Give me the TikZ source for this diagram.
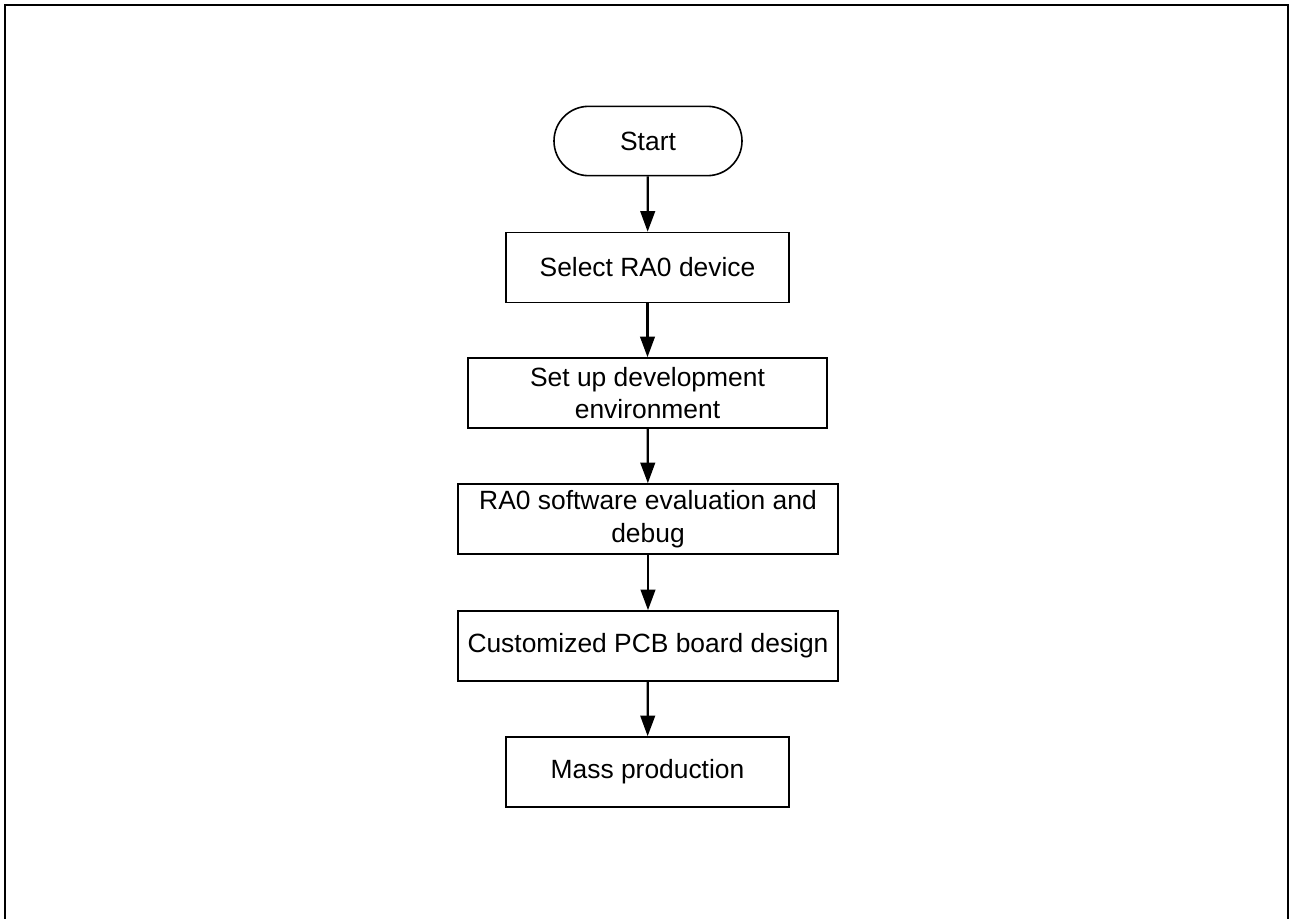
\documentclass[tikz,border=0pt]{standalone}
\usepackage{fontspec}
\setmainfont{Liberation Sans}
\usetikzlibrary{arrows.meta}
\begin{document}
\begin{tikzpicture}[x=0.75pt,y=-0.75pt,
  every node/.style={font=\fontsize{19.8pt}{24.5pt}\selectfont, inner sep=0pt, align=center},
  stepbox/.style={draw, line width=1.2pt, minimum height=52.5pt},
  termbox/.style={draw, line width=1.2pt, rounded corners=26pt, minimum width=141pt, minimum height=52pt},
  flow/.style={line width=1.7pt, -{Triangle[length=15.5pt,width=11pt]}},
  frame/.style={line width=1.6pt}]
\useasboundingbox (0,0) rectangle (1290,919);
\draw[frame] (5,919) -- (5,5) -- (1288,5) -- (1288,919);
\node[termbox] (start) at (648,141) {Start};
\node[stepbox, minimum width=212.25pt] (sel) at (647.5,267.5) {Select RA0 device};
\node[stepbox, minimum width=269.25pt] (env) at (647.5,393) {Set up development\\environment};
\node[stepbox, minimum width=285pt] (eval) at (648,519) {RA0 software evaluation and\\debug};
\node[stepbox, minimum width=285pt] (pcb) at (648,646) {Customized PCB board design};
\node[stepbox, minimum width=212.25pt] (mass) at (647.5,772) {Mass production};
\draw[flow] (start) -- (sel);
\draw[flow] (sel) -- (env);
\draw[flow] (env) -- (eval);
\draw[flow] (eval) -- (pcb);
\draw[flow] (pcb) -- (mass);
\end{tikzpicture}
\end{document}
